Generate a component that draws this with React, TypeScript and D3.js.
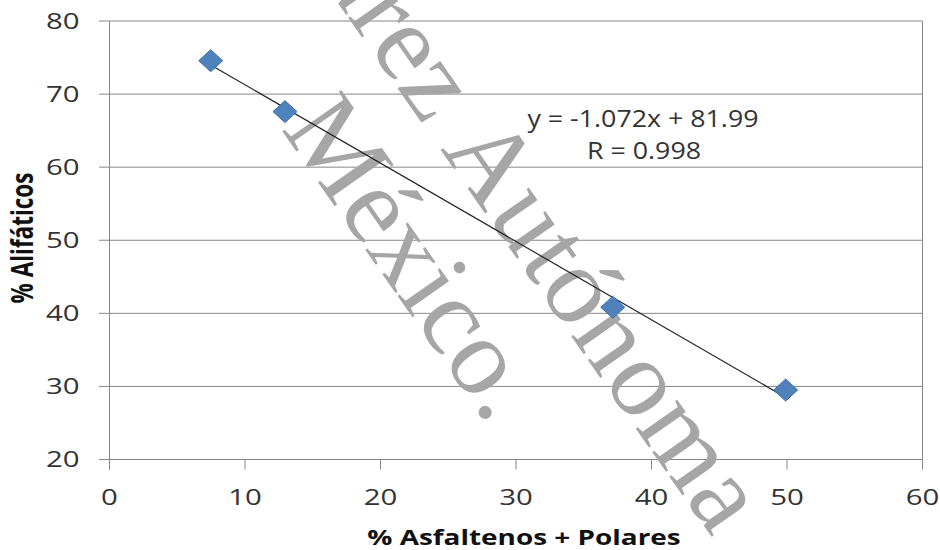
import React from "react";
import * as d3 from "d3";

const xValues = [7.47, 12.95, 37.14, 49.9];
const yValues = [74.57, 67.6, 40.83, 29.5];
const slope = -1.072;
const intercept = 81.99;
const equationLabel = "y = -1.072x + 81.99";
const rLabel = "R = 0.998";
const xTicks = [0, 10, 20, 30, 40, 50, 60];
const yTicks = [20, 30, 40, 50, 60, 70, 80];
const xTitle = "% Asfaltenos + Polares";
const yTitle = "% Alifáticos";
const watermarkLine1a = "Juárez";
const watermarkLine1b = "Autónoma";
const watermarkLine2 = "México.";

const W = 940;
const H = 550;
const M = { left: 109.5, right: 922.5, top: 21, bottom: 459.5 };

export default function App() {
  const x = d3.scaleLinear().domain([0, 60]).range([M.left, M.right]);
  const y = d3.scaleLinear().domain([20, 80]).range([M.bottom, M.top]);
  const grid = "#878787";
  const font = "'Open Sans', sans-serif";
  const xMin = d3.min(xValues) as number;
  const xMax = d3.max(xValues) as number;
  const line = d3.line<number>().x((d) => x(d)).y((d) => y(slope * d + intercept));
  const dw = 12;
  const dh = 11;
  return (
    <svg width={W} height={H} style={{ position: "absolute", left: 0, top: 0, background: "#fff" }}>
      <rect width={W} height={H} fill="#fff" />
      {yTicks.map((t) => (
        <line key={"g" + t} x1={M.left - 10.5} x2={M.right} y1={y(t)} y2={y(t)} stroke={grid} strokeWidth={1} />
      ))}
      <line x1={M.left} x2={M.left} y1={M.top} y2={M.bottom + 10} stroke={grid} strokeWidth={1} />
      <line x1={M.right} x2={M.right} y1={M.top} y2={M.bottom} stroke={grid} strokeWidth={1} />
      {xTicks.map((t) => (
        <line key={"xt" + t} x1={x(t)} x2={x(t)} y1={M.bottom} y2={M.bottom + 10} stroke={grid} strokeWidth={1} />
      ))}
      {yTicks.map((t) => (
        <text
          key={"yl" + t}
          transform={`translate(${M.left - 30},${y(t) + 7.5}) scale(1.4,1)`}
          textAnchor="end"
          fontFamily={font}
          fontSize={21}
          fill="#333"
        >
          {t}
        </text>
      ))}
      {xTicks.map((t) => (
        <text
          key={"xl" + t}
          transform={`translate(${x(t)},${M.bottom + 45}) scale(1.4,1)`}
          textAnchor="middle"
          fontFamily={font}
          fontSize={21}
          fill="#333"
        >
          {t}
        </text>
      ))}
      <g transform="translate(440,149) rotate(55)" fill="#a6a6a6" fontFamily="'Liberation Serif', serif" fontSize={110}>
        <text x={-28} y={0} textAnchor="end">{watermarkLine1a}</text>
        <text x={0} y={0} letterSpacing={1.5}>{watermarkLine1b}</text>
        <text x={-108} y={119}>{watermarkLine2}</text>
      </g>
      <path d={line([xMin, xMax]) || ""} fill="none" stroke="#222" strokeWidth={1.2} />
      {xValues.map((v, i) => {
        const cx = x(v);
        const cy = y(yValues[i]);
        return (
          <path
            key={"p" + i}
            d={`M${cx},${cy - dh}L${cx + dw},${cy}L${cx},${cy + dh}L${cx - dw},${cy}Z`}
            fill="#4F81BD"
            stroke="#3E6FAE"
            strokeWidth={1}
          />
        );
      })}
      <text transform="translate(643,126.5) scale(1.14,1)" textAnchor="middle" fontFamily={font} fontSize={23.5} fill="#333">
        {equationLabel}
      </text>
      <text transform="translate(644,159) scale(1.14,1)" textAnchor="middle" fontFamily={font} fontSize={23.5} fill="#333">
        {rLabel}
      </text>
      <text transform="translate(524,545) scale(1.33,1)" textAnchor="middle" fontFamily={font} fontWeight="bold" fontSize={21} fill="#111">
        {xTitle}
      </text>
      <text transform="translate(33,238) scale(1.33,1) rotate(-90)" textAnchor="middle" fontFamily={font} fontWeight="bold" fontSize={22.5} fill="#111">
        {yTitle}
      </text>
    </svg>
  );
}
